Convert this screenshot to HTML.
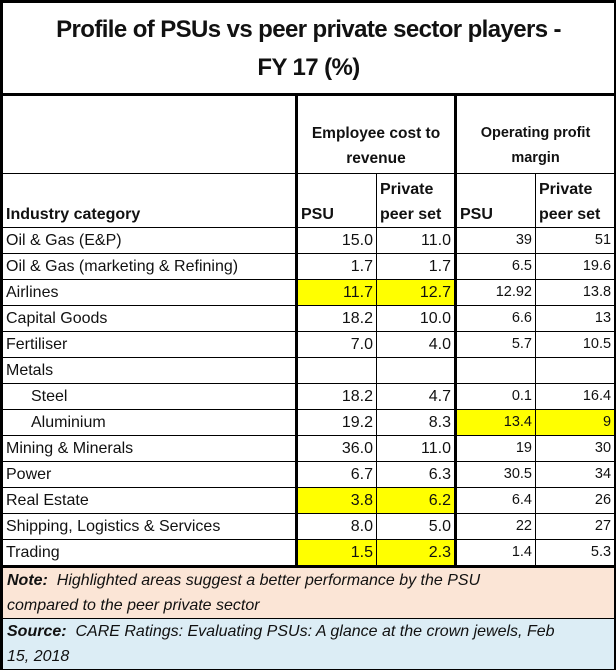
<!DOCTYPE html>
<html><head><meta charset="utf-8"><style>
body{margin:0;width:616px;height:670px;background:#fff;font-family:"Liberation Sans",Arial,sans-serif;overflow:hidden}
#wrap{position:absolute;left:0;top:0;width:612px;height:666px;border:2px solid #000}
table{border-collapse:collapse;table-layout:fixed;position:absolute;left:0;top:0;width:612px}
td{padding:0 3px;font-size:16px;color:#111;border:1px solid #000;overflow:hidden;white-space:nowrap}
.title{height:88px;text-align:center;font-weight:bold;font-size:24px;line-height:38px;border-bottom:3px solid #000;padding-top:2px;letter-spacing:-0.6px}
.num{text-align:right}
.op{font-size:14.5px}
.thick{border-left:3px solid #000}
.y{background:#ffff00}
.hd{font-weight:bold;font-size:15.5px;text-align:center;line-height:25px;vertical-align:bottom;padding-bottom:2px}
.hd2{font-weight:bold;font-size:16px;line-height:25px;vertical-align:bottom}
.note{background:#fbe5d6;font-style:italic;font-size:16px;line-height:25px;height:50px;white-space:nowrap;border-top:3px solid #000;padding:0 4px}
.src{background:#dcedf5;font-style:italic;font-size:16px;line-height:25px;height:50px;white-space:nowrap;padding:0 4px}
tr.r td{height:25px;line-height:25px}
</style></head><body>
<div id="wrap">
<table>
<colgroup><col style="width:294px"><col style="width:80px"><col style="width:79px"><col style="width:80px"><col style="width:79px"></colgroup>
<tr><td colspan="5" class="title">Profile of PSUs vs peer private sector players -<br>FY 17 (%)</td></tr>
<tr><td style="height:77px;border-right:none"></td>
<td colspan="2" class="hd thick">Employee cost to<br>revenue</td>
<td colspan="2" class="hd thick" style="font-size:14.5px">Operating profit<br>margin</td></tr>
<tr><td class="hd2" style="height:53px">Industry category</td>
<td class="hd2 thick">PSU</td>
<td class="hd2">Private<br>peer set</td>
<td class="hd2 thick">PSU</td>
<td class="hd2">Private<br>peer set</td></tr>
<tbody id="body"></tbody>
<tr><td colspan="5" class="note"><b>Note:</b>&nbsp; Highlighted areas suggest a better performance by the PSU<br>compared to the peer private sector</td></tr>
<tr><td colspan="5" class="src"><b>Source:</b>&nbsp; CARE Ratings: Evaluating PSUs: A glance at the crown jewels, Feb<br>15, 2018</td></tr>
</table></div>
<script>
const categories=["Oil & Gas (E&P)","Oil & Gas (marketing & Refining)","Airlines","Capital Goods","Fertiliser","Metals","Steel","Aluminium","Mining & Minerals","Power","Real Estate","Shipping, Logistics & Services","Trading"];
const empPsu=["15.0","1.7","11.7","18.2","7.0","","18.2","19.2","36.0","6.7","3.8","8.0","1.5"];
const empPriv=["11.0","1.7","12.7","10.0","4.0","","4.7","8.3","11.0","6.3","6.2","5.0","2.3"];
const opPsu=["39","6.5","12.92","6.6","5.7","","0.1","13.4","19","30.5","6.4","22","1.4"];
const opPriv=["51","19.6","13.8","13","10.5","","16.4","9","30","34","26","27","5.3"];
const empHi=[0,0,1,0,0,0,0,0,0,0,1,0,1];
const opHi=[0,0,0,0,0,0,0,1,0,0,0,0,0];
const indent=[0,0,0,0,0,0,1,1,0,0,0,0,0];
const body=document.getElementById('body');
categories.forEach((c,i)=>{
  const tr=document.createElement('tr');tr.className='r';
  
  
  const cells=[[c,''],[empPsu[i],'num thick'+(empHi[i]?' y':'')],[empPriv[i],'num'+(empHi[i]?' y':'')],[opPsu[i],'num op thick'+(opHi[i]?' y':'')],[opPriv[i],'num op'+(opHi[i]?' y':'')]];
  const names=['category','emp-psu','emp-private','op-psu','op-private'];
  cells.forEach((v,j)=>{
    const td=document.createElement('td');td.className=v[1];td.textContent=v[0];
    if(j===0&&indent[i])td.style.paddingLeft='28px';
    
    
    tr.appendChild(td);
  });
  body.appendChild(tr);
});
</script>
</body></html>
